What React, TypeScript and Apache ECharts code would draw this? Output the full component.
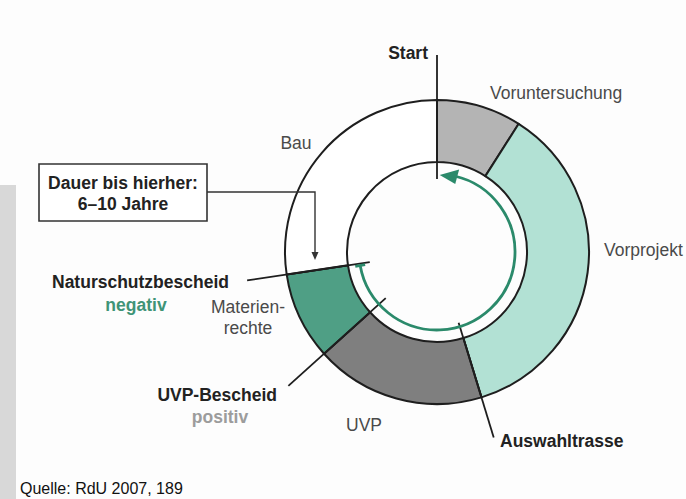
import React, { useEffect, useRef } from "react";
import * as echarts from "echarts";

// Phases of the procedure (clockwise from "Start"), share of the ring in degrees
const phases = ["Voruntersuchung", "Vorprojekt", "UVP", "Materienrechte", "Bau"];
const phaseShare = [32.5, 130.5, 65, 33.5, 98.5];
const phaseColors = ["#b4b4b4", "#b2e1d4", "#7f7f7f", "#4f9f85", "#ffffff"];

// Milestones: label and the index of the phase boundary they sit on
const milestones = ["Start", "Auswahltrasse", "UVP-Bescheid", "Naturschutzbescheid"];
const milestoneBoundary = [0, 2, 3, 4];
const milestoneNotes = ["", "", "positiv", "negativ"];

const durationLines = ["Dauer bis hierher:", "6–10 Jahre"];
const sourceText = "Quelle: RdU 2007, 189";

const FONT = "'Liberation Sans', Arial, Helvetica, sans-serif";
const FS = 17.5;

export default function App() {
  const ref = useRef<HTMLDivElement>(null);

  useEffect(() => {
    if (!ref.current) return;
    const chart = echarts.init(ref.current, undefined, { renderer: "svg" });

    const CX = 437;
    const CY = 252;
    const R_IN = 90;
    const R_OUT = 152;
    const R_ARC = 78;

    const total = phaseShare.reduce((a, b) => a + b, 0);
    const boundaryAngle = (i: number) =>
      (phaseShare.slice(0, i).reduce((a, b) => a + b, 0) / total) * 360;
    const pt = (deg: number, r: number) => {
      const a = (deg * Math.PI) / 180;
      return [CX + r * Math.sin(a), CY - r * Math.cos(a)];
    };

    const lineStyle = { stroke: "#1e1e1e", lineWidth: 1.8 };
    const graphics: any[] = [];

    // left grey strip
    graphics.push({
      type: "rect",
      shape: { x: 0, y: 185, width: 16, height: 314 },
      style: { fill: "#d8d8d8" },
      z: 1,
    });

    // milestone leader lines (radial, on phase boundaries)
    const leader: Record<string, [number, number]> = {
      Start: [73, 197],
      Auswahltrasse: [74, 194],
      "UVP-Bescheid": [69, 200],
      Naturschutzbescheid: [68, 192],
    };
    milestones.forEach((m, i) => {
      const ang = boundaryAngle(milestoneBoundary[i]);
      const [r1, r2] = leader[m];
      const p1 = pt(ang, r1);
      const p2 = pt(ang, r2);
      graphics.push({
        type: "line",
        shape: { x1: p1[0], y1: p1[1], x2: p2[0], y2: p2[1] },
        style: lineStyle,
        z: 50,
      });
    });

    // green "back to start" arc
    const arcEnd = boundaryAngle(4) - 1.5; // near Naturschutzbescheid
    const arcStart = 13;
    graphics.push({
      type: "arc",
      shape: {
        cx: CX,
        cy: CY,
        r: R_ARC,
        startAngle: ((arcStart - 90) * Math.PI) / 180,
        endAngle: ((arcEnd - 90) * Math.PI) / 180,
        clockwise: true,
      },
      style: { stroke: "#2b8a6b", lineWidth: 2.8, fill: "none" },
      z: 50,
    });
    // T end
    {
      const a = pt(arcEnd, R_ARC - 5);
      const b = pt(arcEnd, R_ARC + 5);
      graphics.push({
        type: "line",
        shape: { x1: a[0], y1: a[1], x2: b[0], y2: b[1] },
        style: { stroke: "#2b8a6b", lineWidth: 2.8 },
        z: 50,
      });
    }
    // arrow head pointing back to start
    {
      const tip = pt(2, R_ARC - 1);
      const b1 = pt(15, R_ARC - 7.5);
      const b2 = pt(15, R_ARC + 7.5);
      graphics.push({
        type: "polygon",
        shape: { points: [tip, b1, b2] },
        style: { fill: "#2b8a6b" },
        z: 51,
      });
    }

    // duration box with arrow
    graphics.push({
      type: "rect",
      shape: { x: 39, y: 164, width: 168, height: 57 },
      style: { fill: "#ffffff", stroke: "#333", lineWidth: 1.6 },
      z: 40,
    });
    durationLines.forEach((t, i) => {
      graphics.push({
        type: "text",
        x: 123,
        y: 183 + i * 21,
        style: {
          text: t,
          fill: "#222",
          font: `bold ${FS}px ${FONT}`,
          textAlign: "center",
          textVerticalAlign: "middle",
        },
        z: 60,
      });
    });
    graphics.push({
      type: "polyline",
      shape: { points: [[207, 192], [315, 192], [315, 254]] },
      style: { stroke: "#333", lineWidth: 1.4, fill: "none" },
      z: 45,
    });
    graphics.push({
      type: "polygon",
      shape: { points: [[311.5, 252], [318.5, 252], [315, 260]] },
      style: { fill: "#333" },
      z: 45,
    });

    // phase labels
    const phaseLabelPos: Record<string, { x: number; y: number; align: string }> = {
      Voruntersuchung: { x: 490, y: 93, align: "left" },
      Vorprojekt: { x: 604, y: 250, align: "left" },
      UVP: { x: 364, y: 425, align: "center" },
      Materienrechte: { x: 248, y: 317, align: "center" },
      Bau: { x: 296, y: 143, align: "center" },
    };
    phases.forEach((p) => {
      const pos = phaseLabelPos[p];
      const text = p === "Materienrechte" ? "Materien-\nrechte" : p;
      graphics.push({
        type: "text",
        x: pos.x,
        y: pos.y,
        style: {
          text,
          fill: "#4a4a4a",
          font: `${FS}px ${FONT}`,
          textAlign: pos.align,
          textVerticalAlign: "middle",
          lineHeight: 21,
        },
        z: 60,
      });
    });

    // milestone labels
    const msPos: Record<string, { x: number; y: number; align: string }> = {
      Start: { x: 428, y: 53, align: "right" },
      Auswahltrasse: { x: 500, y: 441, align: "left" },
      "UVP-Bescheid": { x: 277, y: 395, align: "right" },
      Naturschutzbescheid: { x: 52, y: 282, align: "left" },
    };
    const notePos: Record<string, { x: number; y: number; color: string }> = {
      "UVP-Bescheid": { x: 220, y: 417, color: "#9c9c9c" },
      Naturschutzbescheid: { x: 136, y: 305, color: "#3f9477" },
    };
    milestones.forEach((m, i) => {
      const pos = msPos[m];
      graphics.push({
        type: "text",
        x: pos.x,
        y: pos.y,
        style: {
          text: m,
          fill: "#222",
          font: `bold ${FS}px ${FONT}`,
          textAlign: pos.align,
          textVerticalAlign: "middle",
        },
        z: 60,
      });
      if (milestoneNotes[i]) {
        const np = notePos[m];
        graphics.push({
          type: "text",
          x: np.x,
          y: np.y,
          style: {
            text: milestoneNotes[i],
            fill: np.color,
            font: `bold ${FS}px ${FONT}`,
            textAlign: "center",
            textVerticalAlign: "middle",
          },
          z: 60,
        });
      }
    });

    // source
    graphics.push({
      type: "text",
      x: 20,
      y: 488,
      style: {
        text: sourceText,
        fill: "#111",
        font: `16px ${FONT}`,
        textAlign: "left",
        textVerticalAlign: "middle",
      },
      z: 60,
    });

    chart.setOption({
      animation: false,
      backgroundColor: "#fdfdfd",
      series: [
        {
          type: "pie",
          center: [CX, CY],
          radius: [R_IN, R_OUT],
          startAngle: 90,
          clockwise: true,
          silent: true,
          label: { show: false },
          labelLine: { show: false },
          emphasis: { disabled: true },
          itemStyle: { borderColor: "#1e1e1e", borderWidth: 2 },
          data: phases.map((p, i) => ({
            name: p,
            value: phaseShare[i],
            itemStyle: { color: phaseColors[i] },
          })),
          z: 10,
        },
      ],
      graphic: { elements: graphics },
    });

    return () => chart.dispose();
  }, []);

  return (
    <div
      ref={ref}
      style={{ position: "absolute", left: 0, top: 0, width: 686, height: 499 }}
    />
  );
}
